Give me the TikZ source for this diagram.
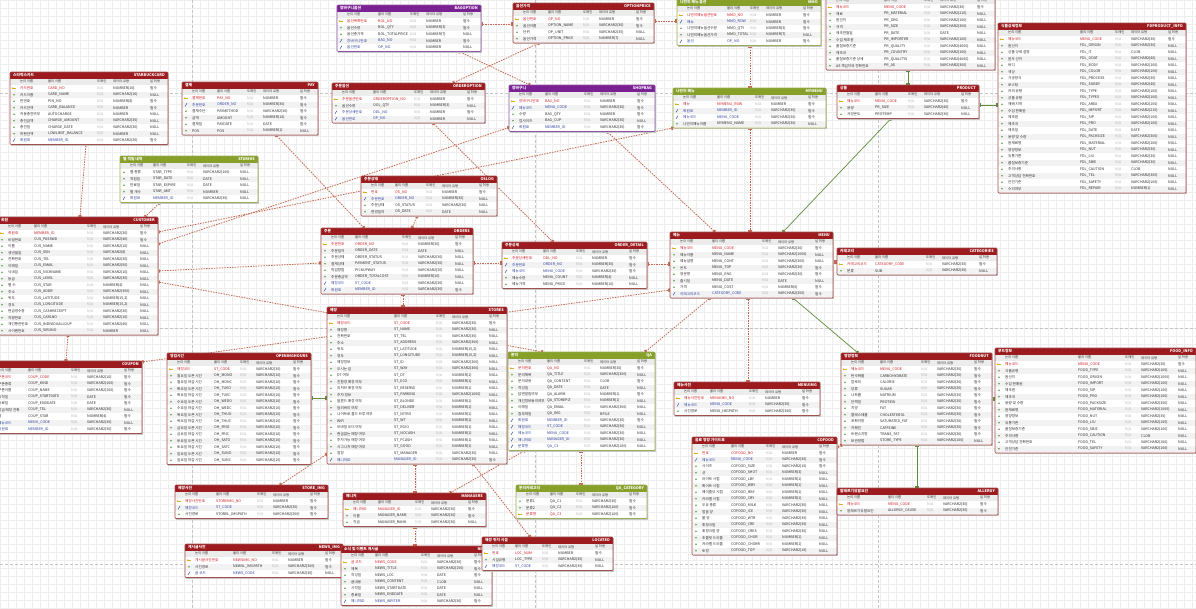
\documentclass[tikz,border=0pt]{standalone}
\usepackage{fontspec}
\setmainfont{Noto Sans CJK KR}
\usetikzlibrary{calc,arrows.meta}
\pgfdeclarelayer{bg}\pgfsetlayers{bg,main}
\definecolor{rhd}{HTML}{9C1B1F}\definecolor{rbd}{HTML}{A4504D}
\definecolor{ghd}{HTML}{86A02A}\definecolor{gbd}{HTML}{97AE52}
\definecolor{vhd}{HTML}{7A2193}\definecolor{vbd}{HTML}{8E55A3}
\definecolor{kp}{HTML}{D0161B}\definecolor{kf}{HTML}{2B3C9E}\definecolor{kn}{HTML}{2A2A2A}
\definecolor{txt}{HTML}{2A2A2A}\definecolor{na}{HTML}{B4B4B4}
\definecolor{rowbg}{HTML}{F2F2F2}\definecolor{colbg}{HTML}{ECECEC}
\definecolor{relc}{HTML}{C5684F}\definecolor{idc}{HTML}{5F8C3C}
\definecolor{keyc}{HTML}{E0B020}\definecolor{fkc}{HTML}{3A55B0}\definecolor{iconn}{HTML}{4FA040}
\definecolor{gridc}{HTML}{EEEEEE}\definecolor{pagec}{HTML}{C4C4C4}
\newcount\erdn
\def\NN{필수}
\newcommand\erdiconp[2]{\draw[keyc,line width=0.5pt] (#1+2.2,#2) -- (#1+6,#2); \fill[keyc] (#1+2.6,#2) circle (1.0);}
\newcommand\erdiconf[2]{\draw[fkc,line width=0.5pt] (#1+3,#2+1.6) -- (#1+5,#2-1.6);}
\newcommand\erdiconn[2]{\fill[iconn] (#1+4,#2) circle (0.8);}
\tikzset{
 tbl/.style={fill=white, inner sep=0pt, outer sep=0pt, rounded corners=1pt},
 ttl/.style={text=white, font=\fontsize{3.8}{4}\selectfont\bfseries, inner sep=0pt},
 colh/.style={anchor=west, text=txt, font=\fontsize{3.3}{4}\selectfont, inner sep=0pt},
 cell/.style={anchor=west, text=txt, font=\fontsize{3.6}{4}\selectfont, inner sep=0pt},
 rel/.style={draw=relc, line width=0.8pt, dash pattern=on 1.5pt off 1.1pt, arrows={Rectangle[length=1.8pt,width=3.2pt]-Rectangle[length=1.8pt,width=3.2pt]}},
 idrel/.style={draw=idc, line width=0.7pt, arrows={Rectangle[length=1.8pt,width=3.2pt]-Rectangle[length=1.8pt,width=3.2pt]}},
 pageln/.style={draw=pagec, line width=0.5pt, dash pattern=on 3pt off 2pt}
}
% #1 name #2 x #3 y #4 w #5 theme #6 kor #7 eng #8 phys offset #9 rows
\newcommand\erd[9]{%
  \global\erdn=0
  \foreach \q in {#9}{\global\advance\erdn by 1}%
  \pgfmathsetmacro\eh{6.5*(\the\erdn+2)+1}%
  \fill[black!22] (#2+1.3,#3+1.3) rectangle ++(#4,\eh);
  \node[tbl, minimum width=#4pt, minimum height=\eh pt, anchor=north west] (#1) at (#2,#3) {};
  \fill[#5hd] (#2,#3) rectangle ++(#4,6.5);
  \node[ttl,anchor=west] at (#2+3,#3+3.25) {#6};
  \node[ttl,anchor=east] at (#2+#4-3,#3+3.25) {#7};
  \fill[colbg] (#2,#3+6.5) rectangle ++(#4,6.5);
  \node[colh] at (#2+10,#3+9.75) {논리 이름};
  \node[colh] at (#2+#8,#3+9.75) {물리 이름};
  \node[colh] at (#2+#4-71,#3+9.75) {도메인};
  \node[colh] at (#2+#4-55,#3+9.75) {데이터 유형};
  \node[colh] at (#2+#4-18,#3+9.75) {널 허용};
  \foreach \rk/\rl/\rp/\rt/\rn [count=\ri] in {#9}{%
    \pgfmathsetmacro\ry{#3+6.5*(\ri+1)}%
    \pgfmathsetmacro\rc{\ry+3.25}%
    \ifodd\ri\else\fill[rowbg] (#2,\ry) rectangle ++(#4,6.5);\fi
    \csname erdicon\rk\endcsname{#2}{\rc}%
    \node[cell,text=k\rk] at (#2+10,\rc) {\rl};
    \node[cell,text=k\rk] at (#2+#8,\rc) {\rp};
    \node[cell,text=na] at (#2+#4-71,\rc) {N/A};
    \node[cell] at (#2+#4-55,\rc) {\rt};
    \node[cell] at (#2+#4-18,\rc) {\rn};
  }%
  \draw[#5bd, line width=0.7pt, rounded corners=1pt] (#1.north west) rectangle (#1.south east);
}
\begin{document}
\begin{tikzpicture}[x=1pt,y=-1pt]
\useasboundingbox (0,0) rectangle (1196,608);
\begin{pgfonlayer}{bg}
\fill[white] (0,0) rectangle (1196,608);
\draw[gridc, line width=0.25pt, step=8pt] (0,0) grid (1196,608);
\foreach \vx in {192,535,878} {\draw[pageln] (\vx,0) -- (\vx,608);}
\foreach \hy in {93,328,564} {\draw[pageln] (0,\hy) -- (1196,\hy);}
\end{pgfonlayer}

\erd{pinfo}{826}{-9}{169}{r}{상품정보}{PRODUCT\_INFO}{58}{
p/메뉴코드/MENU\_CODE/VARCHAR2(30)/\NN,
n/재료/PR\_MATERIAL/VARCHAR2(210)/NULL,
n/원산지/PR\_ORG/VARCHAR2(100)/NULL,
n/규격/PR\_SIZE/VARCHAR2(300)/NULL,
n/제조연월일/PR\_DATE/DATE/NULL,
n/수입 제조원/PR\_IMPORTER/VARCHAR2(100)/NULL,
n/품질보증기준/PR\_QUALITY/VARCHAR2(4000)/NULL,
n/제조국/PR\_COUNTRY/VARCHAR2(100)/NULL,
n/품질보증기준 상세/PR\_QUALITYS/VARCHAR2(4000)/NULL,
n/AS 책임자와 전화번호/PR\_AS/VARCHAR2(300)/NULL}

\erd{card}{10}{72}{158}{r}{스타벅스카드}{STARBUCKCARD}{38}{
p/카드번호/CARD\_NO/NUMBER(16)/\NN,
n/카드이름/CARD\_NAME/VARCHAR2(16)/NULL,
n/핀번호/PIN\_NO/NUMBER(8)/\NN,
n/카드잔액/CARD\_BALANCE/NUMBER/\NN,
n/자동충전여부/AUTOCHARGE/NUMBER/NULL,
n/충전금액/CHARGE\_AMOUNT/VARCHAR2(30)/NULL,
n/충전일/CHARGE\_DATE/VARCHAR2(30)/NULL,
n/하한잔액/LOWLIMIT\_BALANCE/NUMBER/NULL,
f/회원ID/MEMBER\_ID/VARCHAR2(30)/\NN}

\erd{pay}{182}{82}{136}{r}{결제}{PAY}{35}{
p/결제번호/PAY\_NO/NUMBER/\NN,
f/주문번호/ORDER\_NO/NUMBER(30)/\NN,
n/결제수단/PAYMETHOD/VARCHAR2(30)/\NN,
n/금액/AMOUNT/NUMBER(10)/\NN,
n/결제일/PAYDATE/DATE/\NN,
n/POS/POS/NUMBER(1)/NULL}

\erd{star}{120}{156}{138}{g}{별 적립 내역}{STARHIS}{33}{
n/별 종류/STAR\_TYPE/VARCHAR2(100)/NULL,
n/적립일/STAR\_DATE/DATE/NULL,
n/만료일/STAR\_EXPIRE/DATE/NULL,
n/별 개수/STAR\_AMT/NUMBER/NULL,
f/회원ID/MEMBER\_ID/VARCHAR2(30)/NULL}

\erd{cust}{-2}{217}{160}{r}{회원}{CUSTOMER}{36}{
p/회원ID/MEMBER\_ID/VARCHAR2(30)/\NN,
n/비밀번호/CUS\_PASSWD/VARCHAR2(40)/\NN,
n/이름/CUS\_NAME/VARCHAR2(10)/NULL,
n/생년월일/CUS\_SSN/VARCHAR2(8)/NULL,
n/전화번호/CUS\_TEL/VARCHAR2(30)/NULL,
n/이메일/CUS\_EMAIL/VARCHAR2(50)/NULL,
n/닉네임/CUS\_NICKNAME/VARCHAR2(10)/NULL,
n/등급/CUS\_LEVEL/VARCHAR2(30)/NULL,
n/별 수/CUS\_STAR/NUMBER(4)/NULL,
n/주소/CUS\_ADDR/VARCHAR2(300)/NULL,
n/위도/CUS\_LATITUDE/{NUMBER(15,2)}/NULL,
n/경도/CUS\_LONGITUDE/{NUMBER(15,2)}/NULL,
n/현금영수증/CUS\_CASHRECEIPT/VARCHAR2(30)/NULL,
n/차량번호/CUS\_CARLNO/VARCHAR2(10)/NULL,
n/개인통관번호/CUS\_INDIVIDUALLOUP/VARCHAR2(40)/NULL,
n/사이렌번호/CUS\_SIRUNO/NUMBER/NULL}

\erd{coupon}{-12}{361}{154}{r}{쿠폰}{COUPON}{40}{
p/쿠폰코드/COUP\_CODE/VARCHAR2(10)/\NN,
n/쿠폰종류/COUP\_KIND/VARCHAR2(100)/\NN,
n/쿠폰이름/COUP\_NAME/VARCHAR2(100)/\NN,
n/시작일/COUP\_STARTDATE/DATE/\NN,
n/종료일/COUP\_ENDDATE/DATE/\NN,
n/발급 매장 전화/COUP\_TEL/VARCHAR2(30)/NULL,
n/별/COUP\_STAR/NUMBER(4)/\NN,
f/메뉴코드/MENU\_CODE/VARCHAR2(30)/NULL,
f/회원ID/MEMBER\_ID/VARCHAR2(30)/\NN}

\erd{openh}{167}{353}{144}{r}{영업시간}{OPENINGHOURS}{47}{
p/매장코드/ST\_CODE/VARCHAR2(30)/\NN,
n/월요일 오픈 시간/OH\_MONO/VARCHAR2(10)/\NN,
n/월요일 마감 시간/OH\_MONC/VARCHAR2(10)/\NN,
n/화요일 오픈 시간/OH\_TUEO/VARCHAR2(10)/\NN,
n/화요일 마감 시간/OH\_TUEC/VARCHAR2(10)/\NN,
n/수요일 오픈 시간/OH\_WEDO/VARCHAR2(10)/\NN,
n/수요일 마감 시간/OH\_WEDC/VARCHAR2(10)/\NN,
n/목요일 오픈 시간/OH\_THUO/VARCHAR2(10)/\NN,
n/목요일 마감 시간/OH\_THUC/VARCHAR2(10)/\NN,
n/금요일 오픈 시간/OH\_FRIO/VARCHAR2(10)/\NN,
n/금요일 마감 시간/OH\_FRIC/VARCHAR2(10)/\NN,
n/토요일 오픈 시간/OH\_SATO/VARCHAR2(10)/\NN,
n/토요일 마감 시간/OH\_SATC/VARCHAR2(10)/\NN,
n/일요일 오픈 시간/OH\_SUNO/VARCHAR2(10)/\NN,
n/일요일 마감 시간/OH\_SUNC/VARCHAR2(10)/\NN}

\erd{bagopt}{337}{5}{144}{v}{장바구니옵션}{BAGOPTION}{41}{
p/옵션목록번호/BOL\_NO/NUMBER/\NN,
n/옵션수량/BOL\_QTY/NUMBER(3)/\NN,
n/옵션총가격/BOL\_TOTALPRICE/NUMBER(7)/NULL,
f/장바구니번호/BAG\_NO/NUMBER/\NN,
f/옵션번호/OP\_NO/NUMBER/NULL}

\erd{optprice}{513}{3}{141}{r}{옵션가격}{OPTIONPRICE}{35}{
p/옵션번호/OP\_NO/NUMBER/\NN,
n/옵션이름/OPTION\_NAME/VARCHAR2(30)/\NN,
n/단위/OP\_UNIT/VARCHAR2(30)/NULL,
n/옵션가격/OPTION\_PRICE/NUMBER(7)/NULL}

\erd{orderopt}{332}{83}{153}{r}{주문옵션}{ORDEROPTION}{41}{
p/주문옵션번호/ORDEROPTION\_NO/NUMBER/\NN,
n/옵션수량/OOL\_QTY/NUMBER(3)/NULL,
f/주문상세번호/ODL\_NO/NUMBER/\NN,
f/옵션번호/OP\_NO/NUMBER/NULL}

\erd{shopbag}{509}{85}{146}{v}{장바구니}{SHOPBAG}{36}{
p/장바구니번호/BAG\_NO/NUMBER/\NN,
f/메뉴코드/MENU\_CODE/VARCHAR2(30)/\NN,
n/수량/BAG\_QTY/NUMBER/\NN,
n/컵사이즈/BAG\_CUP/VARCHAR2(30)/NULL,
f/회원ID/MEMBER\_ID/VARCHAR2(30)/\NN}

\erd{mmo}{677}{-1}{144}{g}{나만의 메뉴 옵션}{MMO}{50}{
p/나만의메뉴옵션번호/MMO\_NO/NUMBER/\NN,
f/메뉴/MMO\_ROW/NUMBER/\NN,
n/나만의메뉴옵션수량/MMO\_QTY/NUMBER(3)/\NN,
n/나만의메뉴옵션가격/MMO\_TOTAL/NUMBER(7)/NULL,
f/옵션/OP\_NO/NUMBER/\NN}

\erd{mymenu}{673}{88}{153}{g}{나만의 메뉴}{MYMENU}{44}{
p/메뉴/MYMENU\_ROW/NUMBER/\NN,
f/회원ID/MEMBER\_ID/VARCHAR2(30)/\NN,
f/메뉴코드/MENU\_CODE/VARCHAR2(30)/\NN,
n/나만의메뉴이름/MYMENU\_NAME/VARCHAR2(30)/NULL}

\erd{product}{837}{85}{142}{r}{상품}{PRODUCT}{38}{
p/메뉴코드/MENU\_CODE/VARCHAR2(30)/\NN,
n/용량/PR\_SIZE/VARCHAR2(40)/NULL,
n/서빙온도/PROTEMP/VARCHAR2(30)/NULL}

\erd{fdinfo}{998}{23}{188}{r}{식품상세정보}{FDPRODUCT\_INFO}{82}{
p/메뉴코드/MENU\_CODE/VARCHAR2(30)/\NN,
n/원산지/FDL\_ORIGIN/VARCHAR2(30)/NULL,
n/상품 상세 설명/FDL\_IT/CLOB/NULL,
n/원두 산지/FDL\_GOAT/VARCHAR2(40)/NULL,
n/바디/FDL\_BODY/VARCHAR2(100)/NULL,
n/색상/FDL\_COLOR/VARCHAR2(100)/NULL,
n/가공방식/FDL\_PROCESS/VARCHAR2(30)/NULL,
n/로스팅/FDL\_SUBDY/VARCHAR2(40)/NULL,
n/커피 유형/FDL\_TYPE/VARCHAR2(100)/NULL,
n/상품 유형/FDL\_TYPES/VARCHAR2(100)/NULL,
n/재배 지역/FDL\_AREA/VARCHAR2(100)/NULL,
n/수입 판매원/FDL\_IMPORT/VARCHAR2(210)/NULL,
n/제조원/FDL\_SIP/VARCHAR2(100)/NULL,
n/제조국/FDL\_PRO/VARCHAR2(100)/NULL,
n/제조일/FDL\_DATE/DATE/NULL,
n/용량 및 수량/FDL\_PACKSIZE/VARCHAR2(300)/NULL,
n/원재료명/FDL\_MATERIAL/VARCHAR2(100)/NULL,
n/영양정보/FDL\_NUT/VARCHAR2(30)/NULL,
n/유통기한/FDL\_LIU/VARCHAR2(30)/NULL,
n/품질보증기준/FDL\_SBIE/VARCHAR2(30)/NULL,
n/주의사항/FDL\_CAUTION/CLOB/NULL,
n/고객상담 전화번호/FDL\_TEL/VARCHAR2(300)/NULL,
n/안전기준/FDL\_SAFETY/VARCHAR2(100)/NULL,
n/수리여부/FDL\_REPAIR/NUMBER(1)/NULL}

\erd{menu}{670}{232}{163}{r}{메뉴}{MENU}{42}{
p/메뉴코드/MENU\_CODE/VARCHAR2(30)/\NN,
n/메뉴이름/MENU\_NAME/VARCHAR2(1000)/NULL,
n/메뉴설명/MENU\_CONT/VARCHAR2(300)/NULL,
n/온도/MENU\_TOP/VARCHAR2(30)/\NN,
n/영문명/MENU\_ENG/VARCHAR2(30)/\NN,
n/출시일/MENU\_DATE/DATE/NULL,
n/가격/MENU\_COST/NUMBER(6)/\NN,
f/카테고리코드/CATEGORY\_CODE/VARCHAR2(300)/\NN}

\erd{categ}{837}{248}{160}{r}{카테고리}{CATEGORIES}{38}{
p/카테고리코드/CATEGORY\_CODE/VARCHAR2(30)/\NN,
n/분류/SUB/VARCHAR2(30)/NULL}

\erd{oslog}{361}{176}{136}{r}{주문상태}{OSLOG}{34}{
p/번호/OS\_NO/NUMBER/\NN,
f/주문번호/ORDER\_NO/NUMBER(30)/NULL,
n/주문상태/OS\_STATUS/VARCHAR2(30)/NULL,
n/변경일자/OS\_DATE/DATE/NULL}

\erd{orders}{321}{228}{152}{r}{주문}{ORDERS}{34}{
p/주문번호/ORDER\_NO/NUMBER(30)/\NN,
n/주문일자/ORDER\_DATE/DATE/NULL,
n/주문상태/ORDER\_STATUS/VARCHAR2(30)/NULL,
n/결제상태/PAYMENT\_STATUS/VARCHAR2(30)/NULL,
n/픽업방법/PICKUPWAY/VARCHAR2(30)/NULL,
n/주문총금액/ORDER\_TOTALCOST/NUMBER(10)/NULL,
f/매장코드/ST\_CODE/VARCHAR2(30)/NULL,
f/회원ID/MEMBER\_ID/VARCHAR2(30)/\NN}

\erd{odetail}{502}{242}{145}{r}{주문상세}{ORDER\_DETAIL}{41}{
p/주문상세번호/ODL\_NO/NUMBER/\NN,
f/주문번호/ORDER\_NO/NUMBER(30)/\NN,
f/메뉴코드/MENU\_CODE/VARCHAR2(30)/\NN,
n/메뉴수량/MENU\_COUNT/NUMBER(4)/NULL,
n/메뉴가격/MENU\_PRICE/NUMBER(10)/NULL}

\erd{stores}{327}{307}{180}{r}{매장}{STORES}{67}{
p/매장코드/ST\_CODE/VARCHAR2(30)/\NN,
n/매장명/ST\_NAME/VARCHAR2(30)/NULL,
n/전화번호/ST\_TEL/VARCHAR2(30)/NULL,
n/주소/ST\_ADDRESS/VARCHAR2(300)/NULL,
n/위도/ST\_LATITUDE/{NUMBER(15,2)}/NULL,
n/경도/ST\_LONGITUDE/{NUMBER(15,2)}/NULL,
n/매장정보/ST\_ID/VARCHAR2(300)/NULL,
n/오시는 길/ST\_WAY/VARCHAR2(300)/NULL,
n/DT 여부/ST\_DT/NUMBER(1)/NULL,
n/친환경 매장 여부/ST\_ECO/NUMBER(1)/NULL,
n/리저브 매장 여부/ST\_RESERVE/NUMBER(1)/NULL,
n/주차 정보/ST\_PARKING/VARCHAR2(1000)/NULL,
n/블론드 매장 여부/ST\_BLONDE/NUMBER(1)/NULL,
n/딜리버리 여부/ST\_DELIVER/NUMBER(1)/NULL,
n/나이트로 콜드 브루 여부/ST\_NITRO/NUMBER(1)/NULL,
n/WiFi/ST\_WT/NUMBER(1)/NULL,
n/모바일 오더 여부/ST\_RGIO/NUMBER(1)/NULL,
n/현금없는 매장 여부/ST\_NOCASH/NUMBER(1)/NULL,
n/주차가능 매장 여부/ST\_PCASH/NUMBER(1)/NULL,
n/시그니처 매장 여부/ST\_GOOD/NUMBER(1)/NULL,
n/점장/ST\_MANAGER/VARCHAR2(30)/NULL,
f/매니저ID/MANAGER\_ID/VARCHAR2(30)/\NN}

\erd{qa}{508}{352}{147}{g}{문의}{QA}{39}{
p/문의번호/QA\_NO/NUMBER(30)/\NN,
n/문의제목/QA\_TITLE/VARCHAR2(300)/NULL,
n/문의내용/QA\_CONTENT/CLOB/\NN,
n/작성일/QA\_DATE/DATE/NULL,
n/답변알림여부/QA\_ALARM/NUMBER(1)/\NN,
n/개인정보동의여부/QA\_STOREPLT/NUMBER(1)/NULL,
n/이메일/QA\_EMAIL/VARCHAR2(300)/NULL,
n/첨부파일/QA\_IMG/BFILE/NULL,
f/회원ID/MEMBER\_ID/VARCHAR2(30)/\NN,
f/매장코드/ST\_CODE/VARCHAR2(30)/NULL,
f/메뉴코드/MENU\_CODE/VARCHAR2(30)/NULL,
f/매니저ID/MANAGER\_ID/VARCHAR2(30)/NULL,
f/분류명/QA\_C3/VARCHAR2(100)/NULL}

\erd{menuimg}{674}{382}{146}{r}{메뉴사진}{MENUIMG}{36}{
p/메뉴사진번호/MENUIMG\_NO/NUMBER/\NN,
f/메뉴코드/MENU\_CODE/VARCHAR2(30)/\NN,
n/사진경로/MENU\_IMGPATH/VARCHAR2(300)/\NN}

\erd{cofood}{692}{437}{145}{r}{음료 영양 가이드표}{COFOOD}{39}{
p/번호/COFOOD\_NO/NUMBER/\NN,
f/메뉴코드/MENU\_CODE/VARCHAR2(30)/\NN,
n/사이즈/COFOOD\_SIZE/VARCHAR2(10)/\NN,
n/샷/COFOOD\_SHOT/NUMBER(3)/NULL,
n/라이트 시럽/COFOOD\_LBY/NUMBER(1)/NULL,
n/화이트 시럽/COFOOD\_WBY/NUMBER(1)/NULL,
n/헤이즐넛 시럽/COFOOD\_HBY/NUMBER(1)/NULL,
n/카라멜 시럽/COFOOD\_CBY/NUMBER(1)/NULL,
n/우유 종류/COFOOD\_MILK/VARCHAR2(30)/NULL,
n/얼음 양/COFOOD\_ICE/VARCHAR2(30)/NULL,
n/물 양/COFOOD\_WTR/VARCHAR2(30)/NULL,
n/휘핑크림/COFOOD\_CRE/VARCHAR2(30)/NULL,
n/휘핑크림 양/COFOOD\_CRES/VARCHAR2(30)/NULL,
n/초콜릿 드리즐/COFOOD\_CHOR/NUMBER(1)/NULL,
n/카라멜 드리즐/COFOOD\_CHORR/NUMBER(1)/NULL,
n/토핑/COFOOD\_TOP/VARCHAR2(10)/NULL}

\erd{foodnut}{841}{353}{151}{r}{영양정보}{FOODNUT}{39}{
p/메뉴코드/MENU\_CODE/VARCHAR2(30)/\NN,
n/탄수화물/CARBOHYDRATE/VARCHAR2(30)/\NN,
n/칼로리/CALORIE/VARCHAR2(30)/\NN,
n/당류/SUGAR/VARCHAR2(30)/\NN,
n/나트륨/NATRIUM/VARCHAR2(30)/\NN,
n/단백질/PROTEIN/VARCHAR2(30)/\NN,
n/지방/FAT/VARCHAR2(30)/\NN,
n/콜레스테롤/CHOLESTEROL/VARCHAR2(30)/\NN,
n/포화지방/SATURATED\_FAT/VARCHAR2(30)/\NN,
n/카페인/CAFFEINE/VARCHAR2(30)/\NN,
n/트랜스지방/TRANS\_FAT/VARCHAR2(30)/\NN,
n/보관방법/STORE\_TYPE/VARCHAR2(100)/NULL}

\erd{foodinfo}{995}{348}{201}{r}{푸드정보}{FOOD\_INFO}{83}{
p/메뉴코드/MENU\_CODE/VARCHAR2(30)/\NN,
n/식품유형/FOOD\_TYPE/VARCHAR2(100)/NULL,
n/원산지/FOOD\_ORIGIN/VARCHAR2(1000)/NULL,
n/수입 판매원/FOOD\_IMPORT/VARCHAR2(100)/NULL,
n/제조원/FOOD\_SIP/VARCHAR2(100)/NULL,
n/제조국/FOOD\_PRO/VARCHAR2(100)/NULL,
n/용량 및 수량/FOOD\_PACKSIZE/VARCHAR2(300)/NULL,
n/원재료명/FOOD\_MATERIAL/VARCHAR2(1000)/NULL,
n/영양정보/FOOD\_NUT/VARCHAR2(30)/NULL,
n/유통기한/FOOD\_LIU/VARCHAR2(100)/NULL,
n/품질보증기준/FOOD\_SBIE/VARCHAR2(100)/NULL,
n/주의사항/FOOD\_CAUTION/CLOB/NULL,
n/고객상담 전화번호/FOOD\_TEL/VARCHAR2(100)/NULL,
n/안전기준/FOOD\_SAFETY/VARCHAR2(100)/NULL}

\erd{allergy}{837}{488}{161}{r}{알레르기유발요인}{ALLERGY}{51}{
p/메뉴코드/MENU\_CODE/VARCHAR2(30)/\NN,
n/알레르기유발요인/ALLERGY\_CAUSE/VARCHAR2(30)/\NN}

\erd{storeimg}{175}{485}{153}{r}{매장사진}{STORE\_IMG}{41}{
p/매장사진번호/STOREIMG\_NO/NUMBER/\NN,
f/매장코드/ST\_CODE/VARCHAR2(30)/\NN,
n/사진경로/STOREL\_IMGPATH/VARCHAR2(300)/\NN}

\erd{managers}{343}{493}{143}{r}{매니저}{MANAGERS}{35}{
p/매니저ID/MANAGER\_ID/VARCHAR2(30)/\NN,
n/이름/MANAGER\_NAME/VARCHAR2(30)/\NN,
n/직급/MANAGER\_RANK/VARCHAR2(30)/NULL}

\erd{qacat}{516}{485}{131}{g}{문의카테고리}{QA\_CATEGORY}{34}{
n/분류1/QA\_C1/VARCHAR2(30)/\NN,
n/분류2/QA\_C2/VARCHAR2(100)/\NN,
p/분류명/QA\_C3/VARCHAR2(100)/\NN}

\erd{newsimg}{185}{544}{158}{r}{게시글사진}{NEWS\_IMG}{48}{
p/게시글사진번호/NEWSIMG\_NO/NUMBER/\NN,
n/사진경로/NEWSL\_IMGPATH/VARCHAR2(300)/\NN,
f/글 코드/NEWS\_CODE/VARCHAR2(30)/NULL}

\erd{news}{341}{546}{151}{r}{소식 및 이벤트 게시글}{NEWS}{34}{
p/글 코드/NEWS\_CODE/VARCHAR2(30)/\NN,
n/제목/NEWS\_TITLE/VARCHAR2(150)/\NN,
n/작성일/NEWS\_LOC/DATE/\NN,
n/글내용/NEWS\_CONTENT/CLOB/NULL,
n/시작일/NEWS\_STARTDATE/DATE/NULL,
n/종료일/NEWS\_ENDDATE/DATE/NULL,
f/매니저ID/NEWS\_WRITER/VARCHAR2(30)/\NN}

\erd{located}{482}{537}{131}{r}{매장 위치 시설}{LOCATED}{33}{
p/번호/LOC\_NUM/NUMBER/\NN,
n/시설유형/LOC\_TYPE/VARCHAR2(30)/NULL,
f/매장코드/ST\_CODE/VARCHAR2(30)/NULL}

\begin{pgfonlayer}{bg}
\draw[rel] ($(card.south west)+(76,0)$) -- ($(cust.north west)+(82,0)$);
\draw[rel] ($(star.south west)+(40,0)$) -- ($(cust.north west)+(147,0)$);
\draw[rel] ($(cust.south west)+(70,0)$) -- ($(coupon.north west)+(78,0)$);
\draw[rel] ($(pay.south west)+(94,0)$) -- ($(orders.north west)+(43,0)$);
\draw[rel] ($(cust.north east)+(0,54)$) -- ($(orders.north west)+(0,35)$);
\draw[rel] ($(cust.north east)+(0,27)$) -- ($(shopbag.south west)+(0,-4)$);
\draw[rel] ($(cust.north east)+(0,15)$) -- ($(mymenu.south west)+(0,0)$);
\draw[rel] ($(cust.north east)+(0,65)$) -- ($(qa.north west)+(35,0)$);
\draw[rel] ($(coupon.north east)+(0,1)$) -- ($(menu.south west)+(0,-8)$);
\draw[rel] ($(oslog.south west)+(56,0)$) -- ($(orders.north west)+(91,0)$);
\draw[rel] ($(orders.north east)+(0,35)$) -- ($(odetail.north west)+(0,21)$);
\draw[rel] ($(orders.south west)+(82,0)$) -- ($(stores.north west)+(76,0)$);
\draw[rel] ($(orderopt.south west)+(101,0)$) -- ($(odetail.north west)+(51,0)$);
\draw[rel] ($(odetail.north east)+(0,22)$) -- ($(menu.north west)+(0,32)$);
\draw[rel] ($(bagopt.north east)+(0,19)$) -- ($(optprice.north west)+(0,21)$);
\draw[rel] ($(bagopt.south west)+(122,0)$) -- ($(shopbag.north west)+(21,0)$);
\draw[rel] ($(optprice.south west)+(26,0)$) -- ($(orderopt.north west)+(121,0)$);
\draw[rel] ($(optprice.north east)+(0,18)$) -- ($(mmo.north west)+(0,22)$);
\draw[rel] ($(mmo.south west)+(73,0)$) -- ($(mymenu.north west)+(77,0)$);
\draw[rel] ($(mymenu.south west)+(77,0)$) -- ($(menu.north west)+(80,0)$);
\draw[rel] ($(shopbag.south west)+(98,0)$) -- ($(menu.north west)+(45,0)$);
\draw[idrel] ($(product.south west)+(54,0)$) -- ($(menu.north west)+(113,0)$);
\draw[idrel] ($(pinfo.south west)+(82,0)$) -- ($(product.north west)+(71,0)$);
\draw[idrel] ($(product.north east)+(0,20)$) -- ($(fdinfo.north west)+(0,82)$);
\draw[rel] ($(menu.north east)+(0,30)$) -- ($(categ.north west)+(0,14)$);
\draw[idrel] ($(menu.south west)+(123,0)$) -- ($(foodnut.north west)+(17,0)$);
\draw[idrel] ($(foodnut.north east)+(0,46)$) -- ($(foodinfo.north west)+(0,51)$);
\draw[idrel] ($(foodnut.south west)+(76,0)$) -- ($(allergy.north west)+(80,0)$);
\draw[rel] ($(menu.south west)+(78,0)$) -- ($(menuimg.north west)+(74,0)$);
\draw[rel] ($(menu.south west)+(40,0)$) -- ($(qa.north west)+(137,0)$);
\draw[rel] ($(cofood.north east)+(0,10)$) -- ($(foodnut.south west)+(1,0)$);
\draw[rel] ($(stores.north east)+(0,87)$) -- ($(qa.north west)+(0,42)$);
\draw[idrel] ($(openh.north east)+(0,45)$) -- ($(stores.north west)+(0,91)$);
\draw[rel] ($(storeimg.north west)+(105,0)$) -- ($(stores.north west)+(0,147)$);
\draw[rel] ($(stores.south west)+(88,0)$) -- ($(managers.north west)+(72,0)$);
\draw[rel] ($(stores.south west)+(146,0)$) -- ($(located.north west)+(48,0)$);
\draw[rel] ($(qa.south west)+(17,0)$) -- ($(managers.north west)+(107,0)$);
\draw[rel] ($(qa.south west)+(73,0)$) -- ($(qacat.north west)+(65,0)$);
\draw[rel] ($(managers.south west)+(72,0)$) -- ($(news.north west)+(74,0)$);
\draw[rel] ($(newsimg.north east)+(0,22)$) -- ($(news.north west)+(0,20)$);
\end{pgfonlayer}
\end{tikzpicture}
\end{document}
